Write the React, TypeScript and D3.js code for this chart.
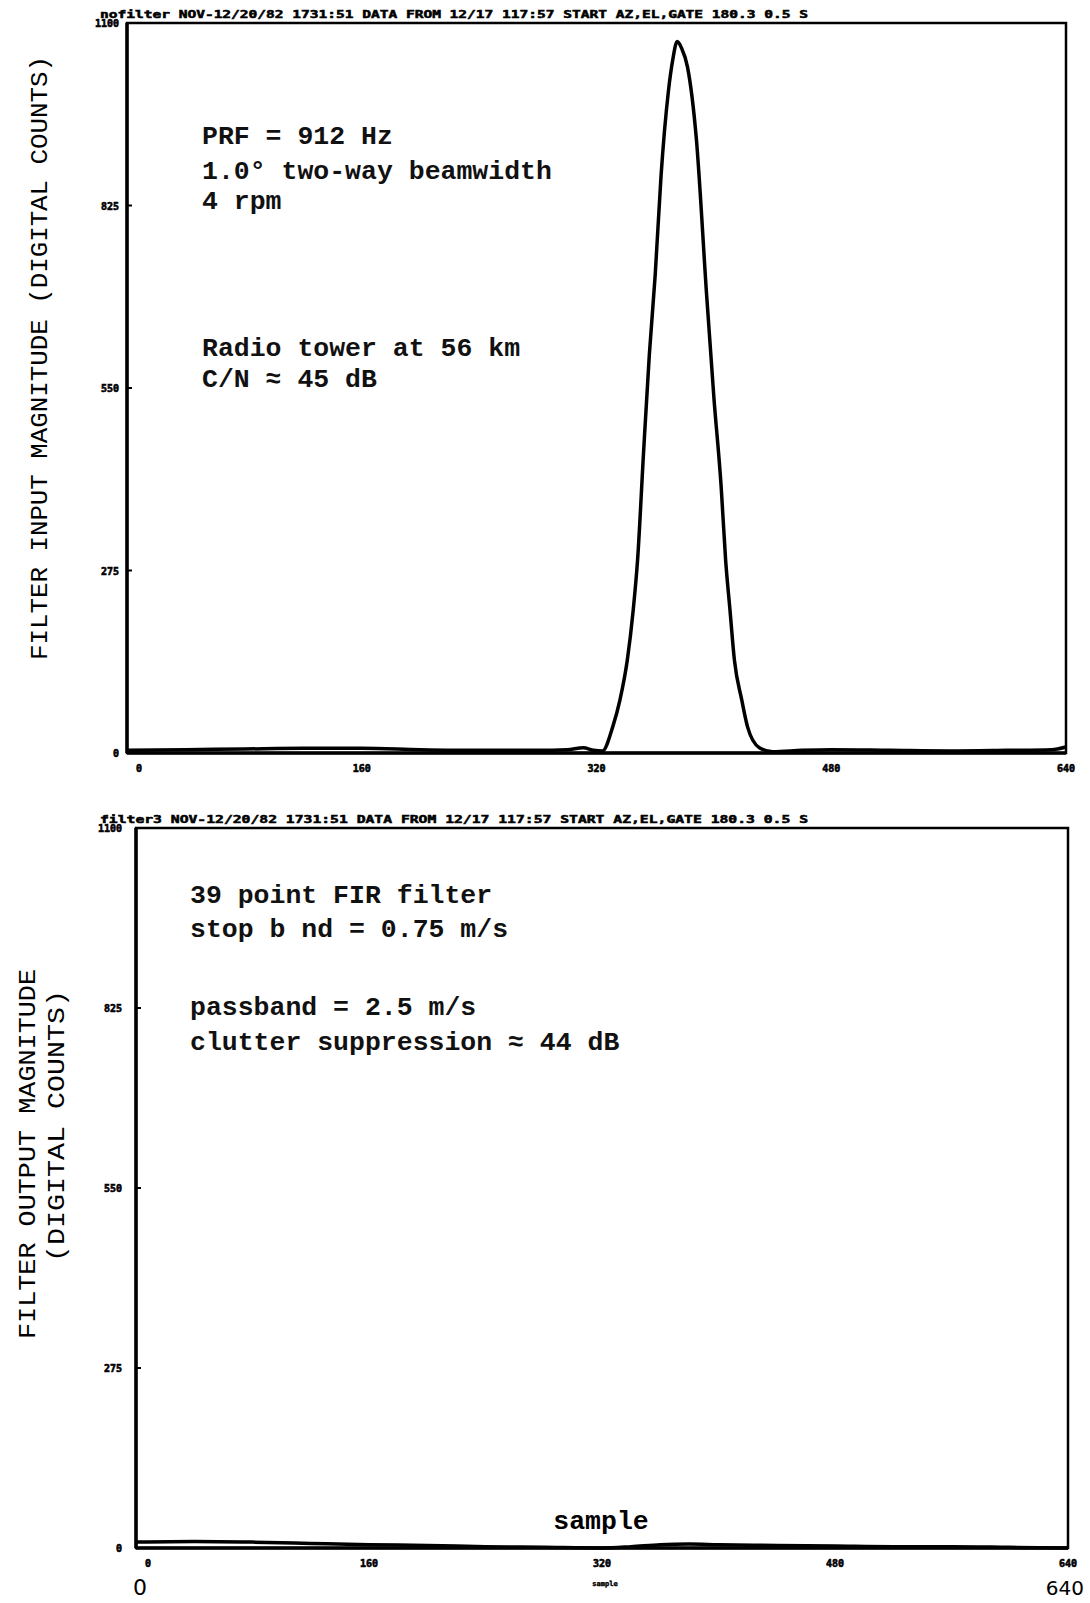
import React, { useEffect, useRef } from 'react';
import * as d3 from 'd3';

// sample index vs. magnitude (digital counts)
const inputSamples = [0, 40, 80, 120, 160, 200, 240, 280, 300, 311, 318, 324, 331, 336, 341, 345, 348, 352, 356, 360, 364, 369, 372, 375, 378, 382, 388, 395, 400, 405, 408, 411, 414, 419, 423, 431, 440, 460, 480, 520, 560, 600, 630, 640];
const inputValues = [4, 5, 6, 7, 7, 5, 4, 4, 5, 8, 4, 3, 39, 80, 140, 215, 291, 450, 600, 720, 870, 997, 1045, 1072, 1062, 1034, 927, 692, 536, 400, 291, 215, 140, 80, 39, 8, 2, 4, 5, 4, 3, 4, 5, 9];

const outputSamples = [0, 40, 80, 120, 160, 200, 240, 280, 320, 340, 360, 380, 400, 440, 480, 520, 560, 600, 640];
const outputValues = [9, 10, 9, 7, 5, 4, 2, 1, 0, 2, 5, 6, 5, 4, 3, 2, 2, 1, 0];

const yTicks = [0, 275, 550, 825, 1100];
const xTicks = [0, 160, 320, 480, 640];

const topHeader = 'nofilter NOV-12/20/82 1731:51 DATA FROM 12/17  117:57  START AZ,EL,GATE 180.3   0.5 S';
const bottomHeader = 'filter3 NOV-12/20/82 1731:51 DATA FROM 12/17  117:57  START AZ,EL,GATE 180.3   0.5 S';

const topNotes = ['PRF = 912 Hz', '1.0\u00B0 two-way beamwidth', '4 rpm', 'Radio tower at 56 km', 'C/N \u2248 45 dB'];
const bottomNotes = ['39 point FIR filter', 'stop b nd = 0.75 m/s', 'passband = 2.5 m/s', 'clutter suppression \u2248 44 dB'];

const mono = '"Liberation Mono", "DejaVu Sans Mono", monospace';
const dot = '"DejaVu Sans Mono", monospace';

interface Panel {
    samples: number[];
    values: number[];
    left: number; right: number; top: number; bottom: number;
    header: string;
    notes: string[];
    notesX: number;
    notesY: number[];
    labelGap: number;
}

const App: React.FC = () => {
    const svgRef = useRef<SVGSVGElement>(null);

    useEffect(() => {
        if (!svgRef.current) return;
        const svg = d3.select(svgRef.current);
        svg.selectAll('*').remove();

        const panels: Panel[] = [
            { samples: inputSamples, values: inputValues, left: 127, right: 1066, top: 23, bottom: 753, header: topHeader, notes: topNotes, notesX: 202, notesY: [144, 179, 209, 356, 387], labelGap: 8 },
            { samples: outputSamples, values: outputValues, left: 136, right: 1068, top: 828, bottom: 1548, header: bottomHeader, notes: bottomNotes, notesX: 190, notesY: [903, 937, 1015, 1050], labelGap: 14 },
        ];

        panels.forEach(p => {
            const x = d3.scaleLinear().domain([0, 640]).range([p.left, p.right]);
            const y = d3.scaleLinear().domain([0, 1100]).range([p.bottom, p.top]);
            const g = svg.append('g');

            // frame
            g.append('rect')
                .attr('x', p.left).attr('y', p.top)
                .attr('width', p.right - p.left).attr('height', p.bottom - p.top)
                .attr('fill', 'none').attr('stroke', '#000').attr('stroke-width', 2.5);
            g.append('line')
                .attr('x1', p.left).attr('x2', p.left).attr('y1', p.top).attr('y2', p.bottom)
                .attr('stroke', '#000').attr('stroke-width', 3.5);
            g.append('line')
                .attr('x1', p.left).attr('x2', p.right).attr('y1', p.bottom).attr('y2', p.bottom)
                .attr('stroke', '#000').attr('stroke-width', 3.5);

            // y ticks
            yTicks.forEach(t => {
                g.append('line')
                    .attr('x1', p.left).attr('x2', p.left + 5)
                    .attr('y1', y(t)).attr('y2', y(t))
                    .attr('stroke', '#000').attr('stroke-width', 2);
                g.append('text')
                    .attr('x', p.left - p.labelGap).attr('y', y(t) + 4)
                    .attr('text-anchor', 'end')
                    .attr('stroke', '#000').attr('stroke-width', 0.6)
                    .style('font-family', dot).style('font-size', '10px').style('font-weight', 'bold')
                    .text(String(t));
            });

            // x tick labels
            xTicks.forEach(t => {
                g.append('text')
                    .attr('x', x(t) + (t === 0 ? 12 : 0)).attr('y', p.bottom + 19)
                    .attr('text-anchor', 'middle')
                    .attr('stroke', '#000').attr('stroke-width', 0.6)
                    .style('font-family', dot).style('font-size', '10px').style('font-weight', 'bold')
                    .text(String(t));
            });

            // header line
            g.append('text')
                .attr('x', 100).attr('y', p.top - 5)
                .attr('textLength', 708).attr('lengthAdjust', 'spacingAndGlyphs')
                .attr('stroke', '#000').attr('stroke-width', 0.5)
                .style('font-family', dot).style('font-size', '10px').style('font-weight', 'bold')
                .text(p.header);

            // trace
            const line = d3.line<number>()
                .x((d, i) => x(p.samples[i]))
                .y(d => y(d))
                .curve(d3.curveMonotoneX);
            g.append('path')
                .attr('d', line(p.values) || '')
                .attr('fill', 'none').attr('stroke', '#000')
                .attr('stroke-width', 3.5).attr('stroke-linejoin', 'round');

            // annotation block
            p.notes.forEach((s, i) => {
                g.append('text')
                    .attr('x', p.notesX).attr('y', p.notesY[i])
                    .style('font-family', mono).style('font-size', '26.5px').style('font-weight', 'bold')
                    .attr('fill', '#111')
                    .text(s);
            });
        });

        // y-axis titles
        svg.append('text')
            .attr('transform', 'translate(47,358) rotate(-90)')
            .attr('text-anchor', 'middle')
            .attr('textLength', 604).attr('lengthAdjust', 'spacingAndGlyphs')
            .style('font-family', mono).style('font-size', '23px')
            .text('FILTER INPUT MAGNITUDE (DIGITAL COUNTS)');
        svg.append('text')
            .attr('transform', 'translate(35,1154) rotate(-90)')
            .attr('text-anchor', 'middle')
            .attr('textLength', 370).attr('lengthAdjust', 'spacingAndGlyphs')
            .style('font-family', mono).style('font-size', '23px')
            .text('FILTER OUTPUT MAGNITUDE');
        svg.append('text')
            .attr('transform', 'translate(64,1126) rotate(-90)')
            .attr('text-anchor', 'middle')
            .attr('textLength', 272).attr('lengthAdjust', 'spacingAndGlyphs')
            .style('font-family', mono).style('font-size', '23px')
            .text('(DIGITAL COUNTS)');

        // bottom x-axis captions
        svg.append('text')
            .attr('x', 601).attr('y', 1529).attr('text-anchor', 'middle')
            .style('font-family', mono).style('font-size', '26.5px').style('font-weight', 'bold')
            .text('sample');
        svg.append('text')
            .attr('x', 605).attr('y', 1586).attr('text-anchor', 'middle')
            .attr('stroke', '#000').attr('stroke-width', 0.4)
            .style('font-family', dot).style('font-size', '7px').style('font-weight', 'bold')
            .text('sample');
        svg.append('text')
            .attr('x', 140).attr('y', 1595).attr('text-anchor', 'middle')
            .style('font-family', '"DejaVu Sans", sans-serif').style('font-size', '22px')
            .text('0');
        svg.append('text')
            .attr('x', 1084).attr('y', 1595).attr('text-anchor', 'end')
            .style('font-family', '"DejaVu Sans", sans-serif').style('font-size', '20px')
            .text('640');
    }, []);

    return (
        <svg ref={svgRef} width={1090} height={1603}
            style={{ position: 'absolute', left: 0, top: 0, background: '#fff' }} />
    );
};

export default App;
